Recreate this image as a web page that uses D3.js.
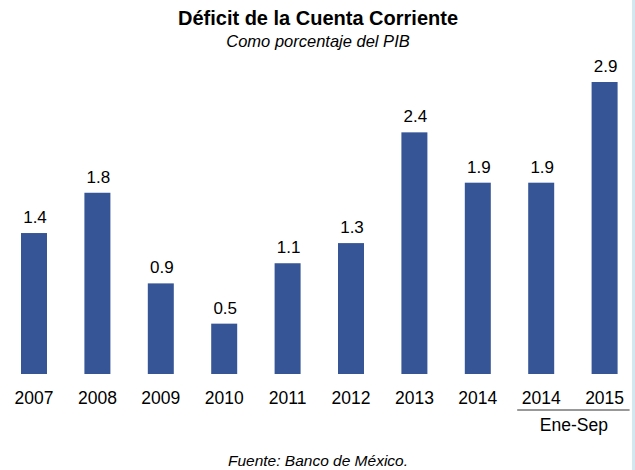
<!DOCTYPE html>
<html>
<head>
<meta charset="utf-8">
<script src="https://cdn.jsdelivr.net/npm/d3@7"></script>
<style>
  body { margin: 0; background: #fff; }
  svg { display: block; font-family: "Liberation Sans", Arial, sans-serif; }
</style>
</head>
<body>
<div id="chart"></div>
<script>
// data
var categories = ["2007", "2008", "2009", "2010", "2011", "2012", "2013", "2014", "2014 ", "2015"];
var yearLabels = ["2007", "2008", "2009", "2010", "2011", "2012", "2013", "2014", "2014", "2015"];
var values = [1.4, 1.8, 0.9, 0.5, 1.1, 1.3, 2.4, 1.9, 1.9, 2.9];
var periodLabel = "Ene-Sep";

var width = 635, height = 470;
var baseY = 374;

var svg = d3.select("#chart").append("svg")
    .attr("width", width)
    .attr("height", height);

// thin light blue strip on the right edge
svg.append("rect")
    .attr("x", 632).attr("y", 0)
    .attr("width", 3).attr("height", height)
    .style("fill", "#d3e7f1");

var x = d3.scaleBand()
    .domain(categories)
    .range([2.3, 636.3])
    .paddingInner(0.59)
    .paddingOuter(0.295);

var y = d3.scaleLinear()
    .domain([0, 2.9])
    .range([baseY, 82]);

// title
svg.append("text")
    .attr("x", 318).attr("y", 25)
    .attr("text-anchor", "middle")
    .style("font-size", "20px")
    .style("font-weight", "bold")
    .text("Déficit de la Cuenta Corriente");

svg.append("text")
    .attr("x", 318).attr("y", 47)
    .attr("text-anchor", "middle")
    .style("font-size", "16.5px")
    .style("font-style", "italic")
    .text("Como porcentaje del PIB");

// bars
svg.selectAll("rect.bar")
    .data(values)
    .enter().append("rect")
    .attr("class", "bar")
    .attr("x", function(d, i) { return x(categories[i]); })
    .attr("y", function(d) { return y(d); })
    .attr("width", x.bandwidth())
    .attr("height", function(d) { return baseY - y(d); })
    .style("fill", "#365596");

// value labels
svg.selectAll("text.val")
    .data(values)
    .enter().append("text")
    .attr("class", "val")
    .attr("x", function(d, i) { return x(categories[i]) + x.bandwidth() / 2 + 1; })
    .attr("y", function(d) { return y(d) - 10; })
    .attr("text-anchor", "middle")
    .style("font-size", "17px")
    .text(function(d) { return d.toFixed(1); });

// year labels
var xAxis = d3.axisBottom(x)
    .tickSize(0)
    .tickFormat(function(d, i) { return yearLabels[i]; });

var ax = svg.append("g")
    .attr("transform", "translate(0," + (baseY + 30) + ")")
    .call(xAxis);
ax.select(".domain").remove();
ax.selectAll("text")
    .attr("dy", 0)
    .attr("y", 0)
    .style("font-size", "17.5px")
    .style("fill", "#000")
    .style("font-family", "'Liberation Sans', Arial, sans-serif");

// Ene-Sep bracket under the last two bars
var c1 = x(categories[8]) + x.bandwidth() / 2;
var c2 = x(categories[9]) + x.bandwidth() / 2;
svg.append("line")
    .attr("x1", c1 - 24).attr("x2", c2 + 25)
    .attr("y1", 410).attr("y2", 410)
    .style("stroke", "#333")
    .style("stroke-width", 1);

svg.append("text")
    .attr("x", (c1 + c2) / 2 + 1).attr("y", 431)
    .attr("text-anchor", "middle")
    .style("font-size", "17.5px")
    .text(periodLabel);

// source
svg.append("text")
    .attr("x", 318).attr("y", 466)
    .attr("text-anchor", "middle")
    .style("font-size", "15.5px")
    .style("font-style", "italic")
    .text("Fuente: Banco de México.");
</script>
</body>
</html>
